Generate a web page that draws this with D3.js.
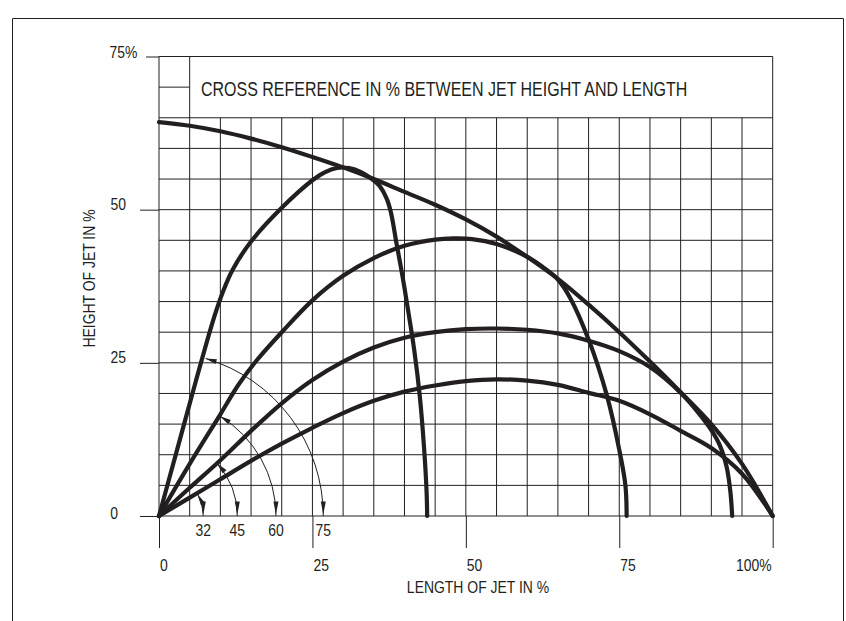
<!DOCTYPE html>
<html><head><meta charset="utf-8">
<script src="https://cdn.jsdelivr.net/npm/d3@7"></script>
<style>html,body{margin:0;padding:0;background:#fff;} svg{display:block;}</style>
</head><body>
<svg id="chart" width="846" height="621"></svg>
<script>
// ---------------- data ----------------
const xTicks = [0, 25, 50, 75, 100];
const xTickLabels = ["0", "25", "50", "75", "100%"];
const yTicks = [0, 25, 50, 75];
const yTickLabels = ["0", "25", "50", "75%"];
const gridStep = 5;
const titleText = "CROSS REFERENCE IN % BETWEEN JET HEIGHT AND LENGTH";
const xTitle = "LENGTH OF JET IN %";
const yTitle = "HEIGHT OF JET IN %";

const angleLabels = ["32", "45", "60", "75"];
const angleArcRadius = [7.22, 12.76, 19.06, 26.77];   // in % of length
const angleArcStart = [29, 42, 58.5, 73.5];            // degrees

const envelope = [[0,64.3],[5,63.7],[10,62.8],[15,61.6],[20,60.2],[25,58.6],[30,56.9],[35,55],[40,52.9],[45,50.8],[50,48.4],[55,45.6],[60,42.3],[65,38.7],[70,34.5],[75,30],[80,25.2],[85,20.2],[90,15],[95,8.5],[100,0]];
const jet75 = [[0,0],[3,11],[6,22],[9,32.5],[10.5,36.8],[12,40.2],[15,44.8],[20,50.3],[25,54.8],[27,56.1],[29,56.8],[31,56.8],[33,56.1],[34.7,55],[36,53.8],[37.1,51.8],[37.8,49.5],[38.7,44.5],[39.7,39],[40.6,33.5],[41.6,27],[42.5,19.5],[43.2,11],[43.6,4],[43.7,0]];
const jet60 = [[0,0],[5,8.5],[10,16.6],[13,21.5],[16,25.5],[20,30],[25,35.2],[30,39.2],[35,42.1],[40,44.1],[45,45.1],[48,45.3],[51,45.2],[55,44.4],[60,42.3],[63,40.3],[65,38.6],[67,35.6],[70,28.8],[73,19.6],[75,10.8],[76,5],[76.2,0]];
const jet45 = [[0,0],[5,4.6],[10,9.1],[15,13.9],[20,18.4],[25,22.2],[30,25.2],[35,27.5],[40,29.1],[45,30],[50,30.5],[55,30.6],[60,30.4],[65,29.8],[70,28.6],[75,26.9],[80,24.3],[85,20.1],[88,16.7],[90,14],[91.4,11.5],[92.5,8],[93.1,4],[93.4,0]];
const jet32 = [[0,0],[5,3],[10,6],[15,9],[20,11.8],[25,14.4],[30,16.8],[35,18.8],[40,20.3],[45,21.3],[50,22],[55,22.3],[60,22.1],[65,21.4],[70,20.1],[75,18.8],[80,16.6],[85,13.9],[90,11.1],[95,6.9],[100,0]];

// ---------------- setup ----------------
const INK = "#231f20";
const svg = d3.select("#chart");
const x = d3.scaleLinear().domain([0, 100]).range([159, 772.7]);
const y = d3.scaleLinear().domain([0, 75]).range([516, 56.5]);

const FONT = "'Liberation Sans Narrow','Arial Narrow','Liberation Sans',Arial,sans-serif";
// detect narrow font availability
const probe = svg.append("text").attr("font-family", FONT).attr("font-size", 17).text(yTitle);
const probeLen = probe.node().getComputedTextLength();
probe.remove();
const hasNarrow = probeLen < 155;

function addText(str, ax, ay, size, anchor, rotate) {
  const g = svg.append("g").attr("transform", `translate(${ax},${ay})` + (rotate ? ` rotate(${rotate})` : ""));
  const t = g.append("text").attr("font-family", FONT).attr("font-size", size)
    .attr("fill", INK).attr("x", 0).attr("y", 0).text(str);
  const L = t.node().getComputedTextLength();
  const W = hasNarrow ? L : L * 0.82;
  if (!hasNarrow) t.attr("textLength", W).attr("lengthAdjust", "spacingAndGlyphs");
  const off = anchor === "end" ? -W : anchor === "middle" ? -W / 2 : 0;
  t.attr("x", off);
  return t;
}

// outer frame
svg.append("path").attr("d", "M12.5,640V18.5H843.5V640")
  .attr("fill", "none").attr("stroke", INK).attr("stroke-width", 1);

// ---------------- grid ----------------
const grid = svg.append("g").attr("stroke", INK).attr("stroke-width", 1).attr("fill", "none");
d3.range(0, 100 + gridStep / 2, gridStep).forEach(v => {
  const top = (v <= 5 || v >= 100) ? 75 : 65;
  grid.append("line").attr("x1", x(v)).attr("x2", x(v)).attr("y1", y(0)).attr("y2", y(top));
});
d3.range(0, 65 + gridStep / 2, gridStep).forEach(v => {
  grid.append("line").attr("x1", x(0)).attr("x2", x(100)).attr("y1", y(v)).attr("y2", y(v));
});
grid.append("line").attr("x1", x(0)).attr("x2", x(5)).attr("y1", y(70)).attr("y2", y(70));
grid.append("line").attr("x1", x(0)).attr("x2", x(100)).attr("y1", y(75)).attr("y2", y(75));

// ---------------- axes (ticks) ----------------
const xAxis = d3.axisBottom(x).tickValues(xTicks).tickSize(32).tickFormat("");
svg.append("g").attr("transform", `translate(0,${y(0)})`).call(xAxis)
  .call(g => g.select(".domain").remove())
  .call(g => g.selectAll("line").attr("stroke", INK));
const yAxis = d3.axisLeft(y).tickValues(yTicks).tickSize(19).tickFormat("");
svg.append("g").attr("transform", `translate(${x(0)},0)`).call(yAxis)
  .call(g => g.select(".domain").remove())
  .call(g => g.selectAll("line").attr("stroke", INK)
     .attr("x2", d => d === 75 ? -13 : -19));

// tick labels
xTicks.forEach((v, i) => {
  const last = i === xTicks.length - 1;
  addText(xTickLabels[i], x(v) + (last ? -1 : 1), 571, 17, last ? "end" : "start");
});
yTicks.forEach((v, i) => {
  const rx = v === 75 ? 137.5 : v === 0 ? 118 : 126;
  const by = v === 0 ? y(v) + 3 : y(v) + (v === 75 ? 1.5 : 0);
  addText(yTickLabels[i], rx, by, 17, "end");
});

// titles
addText(titleText, 201, 96, 19.5, "start");
addText(xTitle, 478, 593, 17, "middle");
addText(yTitle, 95, 278.5, 17, "middle", -90);

// ---------------- curves ----------------
const line = d3.line().x(d => x(d[0])).y(d => y(d[1])).curve(d3.curveCatmullRom.alpha(0.5));
[envelope, jet75, jet60, jet45, jet32].forEach(s => {
  svg.append("path").attr("d", line(s)).attr("fill", "none")
    .attr("stroke", INK).attr("stroke-width", 4.2)
    .attr("stroke-linecap", "round").attr("stroke-linejoin", "round");
});

// ---------------- angle arcs ----------------
const cx = x(0), cy = y(0);
function arrow(tipX, tipY, dx, dy, len, w) {
  const bx = tipX - dx * len, by = tipY - dy * len;
  const nx = -dy, ny = dx;
  return `M${tipX},${tipY}L${bx + nx * w / 2},${by + ny * w / 2}L${bx - nx * w / 2},${by - ny * w / 2}Z`;
}
angleLabels.forEach((lab, i) => {
  const r = x(angleArcRadius[i]) - x(0);
  const th = angleArcStart[i] * Math.PI / 180;
  const p = d3.path();
  p.arc(cx, cy, r, -th, 0, false);
  svg.append("path").attr("d", p.toString()).attr("fill", "none")
    .attr("stroke", INK).attr("stroke-width", 1);
  // bottom arrow (pointing down)
  svg.append("path").attr("d", arrow(cx + r, cy - 1.5, 0, 1, 13, 5)).attr("fill", INK);
  // top arrow (pointing toward the ray)
  const tx = cx + r * Math.cos(th), ty = cy - r * Math.sin(th);
  svg.append("path").attr("d", arrow(tx, ty, -Math.sin(th), -Math.cos(th), 11, 5)).attr("fill", INK);
  addText(lab, cx + r, 536, 17, "middle");
});
</script>
</body></html>
